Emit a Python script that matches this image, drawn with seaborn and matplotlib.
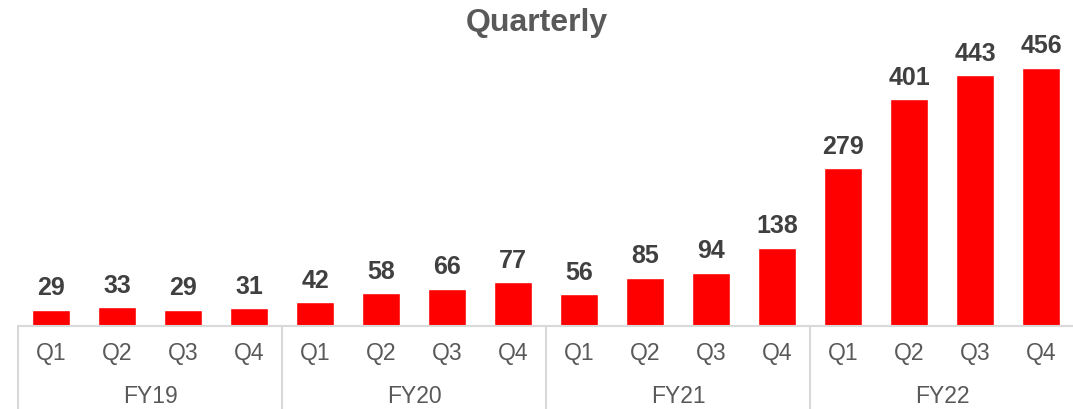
import matplotlib
matplotlib.use("Agg")
import matplotlib.pyplot as plt
import matplotlib.transforms as mtransforms
import seaborn as sns
import pandas as pd

years = ["FY19", "FY20", "FY21", "FY22"]
quarters = ["Q1", "Q2", "Q3", "Q4"]
values = [29, 33, 29, 31, 42, 58, 66, 77, 56, 85, 94, 138, 279, 401, 443, 456]

keys = [f"{y} {q}" for y in years for q in quarters]
df = pd.DataFrame({"key": keys, "value": values})

sns.set_style("white")
plt.rcParams['font.family'] = ['Liberation Sans', 'DejaVu Sans']

fig = plt.figure(figsize=(10.73, 4.10), dpi=100)
ax = fig.add_axes([18 / 1073, 1 - 327 / 410, 1 - 18 / 1073 + 0.001, 287 / 410])

sns.barplot(data=df, x="key", y="value", order=keys, color="#ff0000",
            saturation=1, width=0.58, ax=ax)

ax.set_xlim(-0.5, len(keys) - 0.5)
ax.set_ylim(0, 507)
ax.set_xlabel("")
ax.set_ylabel("")
ax.set_yticks([])
ax.set_xticks(range(len(keys)))
ax.set_xticklabels([k.split(" ")[1] for k in keys], fontsize=16.5, color="#595959")
ax.tick_params(axis="x", length=0, pad=11)

for s in ["top", "right", "left"]:
    ax.spines[s].set_visible(False)
ax.spines["bottom"].set_color("#d9d9d9")
ax.spines["bottom"].set_linewidth(1.5)

for container in ax.containers:
    ax.bar_label(container, fmt="%d", padding=7.5, fontsize=18,
                 fontweight="bold", color="#404040")

trans = mtransforms.blended_transform_factory(ax.transData, ax.transAxes)
for i in range(len(years) + 1):
    xpos = i * 4 - 0.5
    ax.plot([xpos, xpos], [0, -0.3], transform=trans, color="#d9d9d9",
            lw=1.5, clip_on=False)
for i, y in enumerate(years):
    ax.text(i * 4 + 1.5, -(397 - 327) / 287, y, transform=trans,
            ha="center", va="center", fontsize=16.5, color="#595959")

fig.text(0.5, 1 - 23 / 410, "Quarterly", ha="center", va="center",
         fontsize=23, fontweight="bold", color="#595959")

fig.savefig("out.png", dpi=100)
